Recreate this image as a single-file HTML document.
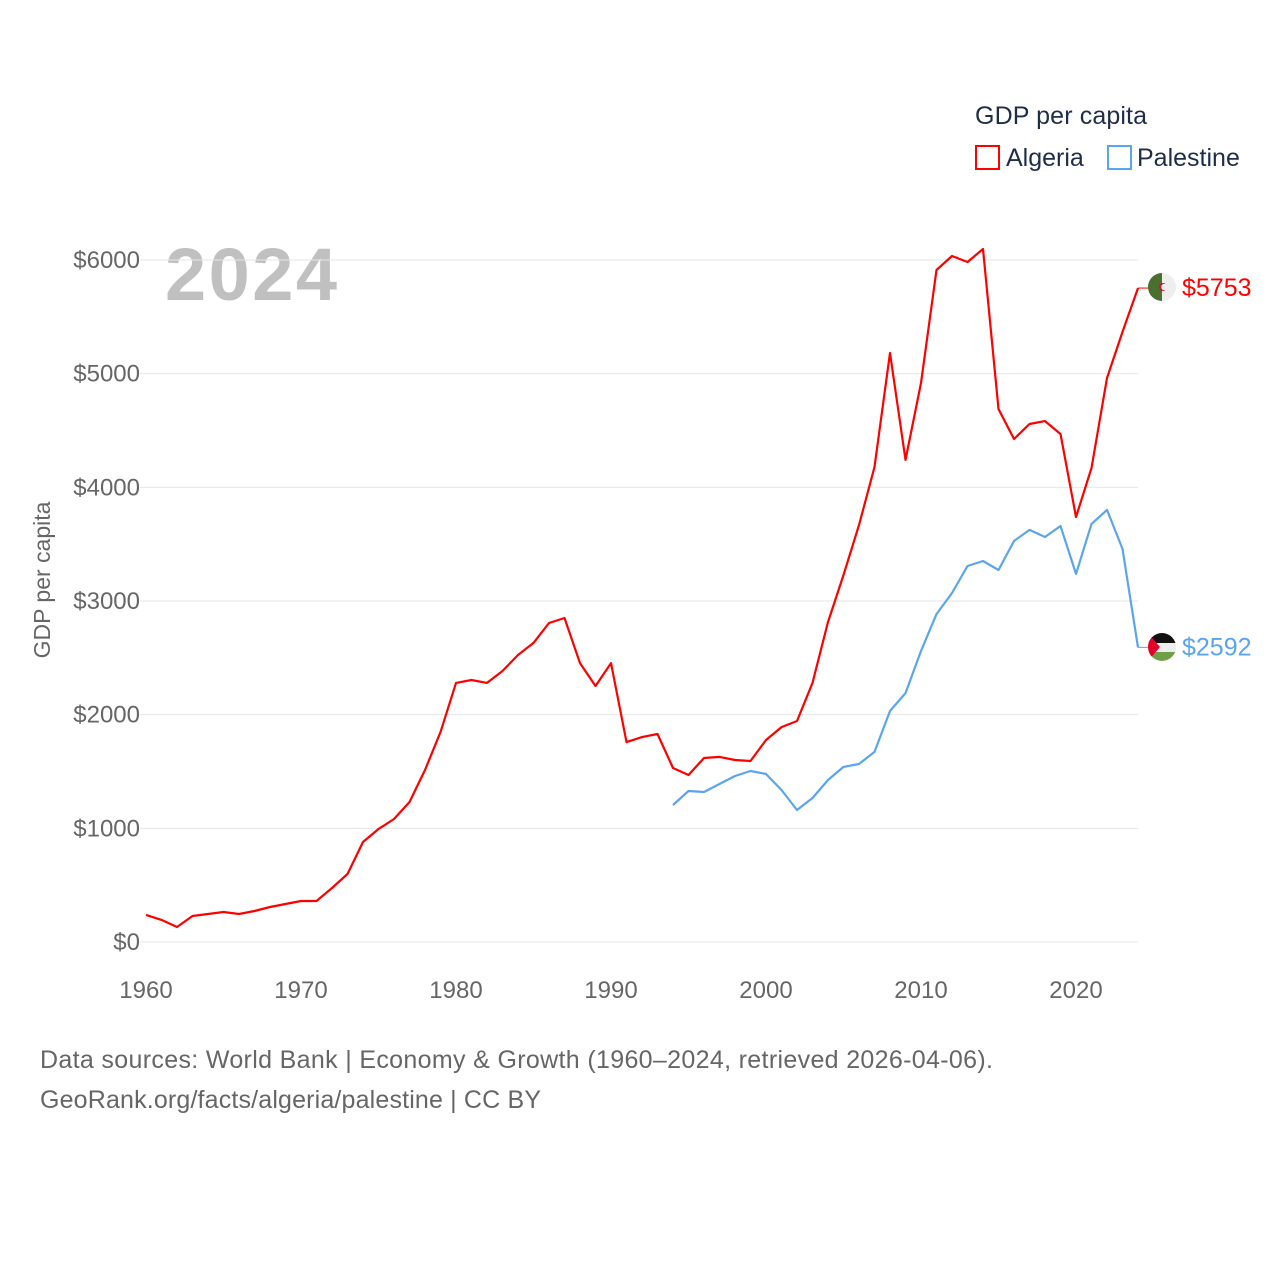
<!DOCTYPE html>
<html><head><meta charset="utf-8"><style>
html,body{margin:0;padding:0;background:#fff;}
body{width:1280px;height:1280px;overflow:hidden;font-family:"Liberation Sans",sans-serif;}
</style></head><body>
<svg id="chart" width="1280" height="1280" xmlns="http://www.w3.org/2000/svg" font-family="Liberation Sans, sans-serif">
<text x="975" y="124" font-size="25" fill="#1f2d4a" textLength="172">GDP per capita</text>
<g><rect x="976" y="146" width="23" height="23" fill="none" stroke="#ff0000" stroke-width="2"/><text x="1006" y="166" font-size="25" fill="#1f2d4a">Algeria</text></g>
<g><rect x="1108" y="146" width="23" height="23" fill="none" stroke="#5aa5ee" stroke-width="2"/><text x="1137" y="166" font-size="25" fill="#1f2d4a">Palestine</text></g>
<text x="165" y="300" font-size="74" font-weight="bold" fill="#c0c0c0" textLength="172">2024</text>
<text transform="translate(50,580) rotate(-90)" text-anchor="middle" font-size="23" fill="#666">GDP per capita</text>
<g id="grid"></g><g id="xt"></g><g id="series"></g>
<g><clipPath id="ca"><circle cx="1162" cy="287" r="14"/></clipPath><g clip-path="url(#ca)"><rect x="1148" y="273" width="14" height="28" fill="#4b6f2e"/><rect x="1162" y="273" width="14" height="28" fill="#eee"/><circle cx="1163" cy="287" r="4" fill="#d21034"/><circle cx="1164.5" cy="287" r="3.3" fill="#eee"/></g></g>
<g><clipPath id="cp"><circle cx="1162" cy="647" r="14"/></clipPath><g clip-path="url(#cp)"><rect x="1148" y="633" width="28" height="10" fill="#111"/><rect x="1148" y="643" width="28" height="9" fill="#eee"/><rect x="1148" y="652" width="28" height="10" fill="#6fa047"/><polygon points="1148,633 1160,647 1148,661" fill="#e4002b"/></g></g>
<text x="40" y="1068" font-size="25" fill="#666" textLength="953">Data sources: World Bank | Economy &amp; Growth (1960–2024, retrieved 2026-04-06).</text>
<text x="40" y="1108" font-size="25" fill="#666" textLength="501">GeoRank.org/facts/algeria/palestine | CC BY</text>
</svg>
<script>
const years=[];for(let y=1960;y<=2024;y++)years.push(y);
const algeria=[238,194,132,229,246,264,246,273,308,334,361,361,475,598,880,994,1082,1232,1513,1847,2279,2305,2279,2384,2525,2631,2806,2850,2454,2252,2454,1759,1803,1830,1531,1469,1619,1628,1601,1592,1777,1891,1944,2279,2815,3229,3668,4179,5182,4241,4918,5912,6035,5982,6097,4689,4425,4557,4583,4469,3739,4170,4962,5367,5753];
const palYears=[];for(let y=1994;y<=2024;y++)palYears.push(y);
const palestine=[1205,1328,1320,1390,1460,1504,1478,1337,1161,1267,1425,1540,1566,1672,2032,2190,2560,2885,3070,3308,3352,3273,3528,3625,3563,3660,3238,3678,3801,3458,2592];
const yTicks=[0,1000,2000,3000,4000,5000,6000];
const xTicks=[1960,1970,1980,1990,2000,2010,2020];
const NS="http://www.w3.org/2000/svg";
const X=y=>146+(y-1960)*15.5;
const Y=v=>942-v*0.11367;
function el(t,a,p){const e=document.createElementNS(NS,t);for(const k in a)e.setAttribute(k,a[k]);p.appendChild(e);return e;}
const grid=document.getElementById('grid');
yTicks.forEach(v=>{
 const l=el('line',{x1:140,x2:1138,y1:Y(v),y2:Y(v),stroke:'#e6e6e6','stroke-width':1},grid);
 
 
 const t=el('text',{x:140,y:Y(v)+8,'text-anchor':'end','font-size':24,fill:'#666'},grid);
 t.textContent='$'+v;
 
 
});
const xt=document.getElementById('xt');
xTicks.forEach(v=>{
 const t=el('text',{x:X(v),y:998,'text-anchor':'middle','font-size':24,fill:'#666'},xt);
 t.textContent=v;
 
 
});
const s=document.getElementById('series');
function line(xs,vs,color,name){
 const d=xs.map((y,i)=>(i?'L':'M')+X(y).toFixed(1)+','+Y(vs[i]).toFixed(1)).join('');
 const p=el('path',{d:d,fill:'none',stroke:color,'stroke-width':2.2,'stroke-linejoin':'round'},s);
 
 
 const last=vs[vs.length-1],ly=Y(last);
 el('line',{x1:X(2024),x2:1150,y1:ly,y2:ly,stroke:color,'stroke-width':1},s);
 const t=el('text',{x:1182,y:ly+8,'font-size':25,fill:color},s);
 t.textContent='$'+last;
 
 
}
line(years,algeria,'#ff0000','algeria');
line(palYears,palestine,'#5aa5ee','palestine');
</script>
</body></html>
